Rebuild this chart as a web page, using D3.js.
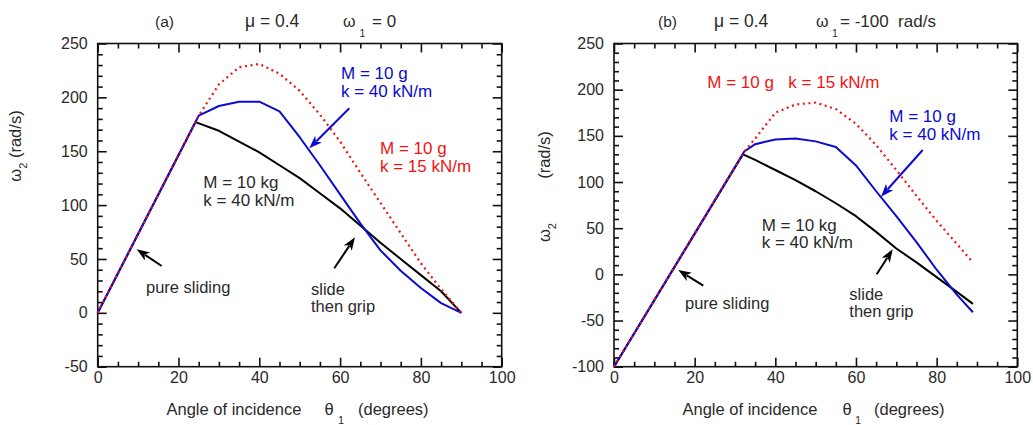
<!DOCTYPE html>
<html><head><meta charset="utf-8">
<script src="https://cdn.jsdelivr.net/npm/d3@7"></script>
<style>
html,body{margin:0;padding:0;background:#fff;}
svg{display:block;font-family:"Liberation Sans",Arial,Helvetica,sans-serif;}
</style></head>
<body>
<svg id="chart" width="1033" height="425"></svg>
<script>
// ---------- Panel (a): mu = 0.4, omega1 = 0 ----------
const thetaA_black = [0, 24.2, 30, 35, 40, 45, 50, 55, 60, 65, 70, 75, 80, 85, 90];
const omegaA_black = [0, 177, 169, 159, 149, 137, 125, 111, 97, 81, 65, 50, 35, 20, 0];
const thetaA_blue  = [0, 25, 30, 35, 40, 45, 50, 55, 60, 65, 70, 75, 80, 85, 90];
const omegaA_blue  = [0, 183, 192, 196, 196, 187, 163, 137, 110, 83, 58, 39, 23, 9, 0];
const thetaA_red   = [0, 25, 30, 35, 40, 45, 50, 55, 60, 65, 70, 75, 80, 85, 90];
const omegaA_red   = [0, 183, 212, 228, 231, 222, 206, 184, 159, 130, 102, 74, 46, 22, 0];

// ---------- Panel (b): mu = 0.4, omega1 = -100 rad/s ----------
const thetaB_black = [0, 32, 35, 40, 45, 50, 55, 60, 65, 70, 75, 80, 85, 89];
const omegaB_black = [-100, 130, 124, 113, 102, 90, 77, 63, 46, 28, 13, -3, -19, -32];
const thetaB_blue  = [0, 32.3, 35, 40, 45, 50, 55, 60, 65, 70, 75, 80, 85, 89];
const omegaB_blue  = [-100, 133, 141, 146, 147, 144, 138, 118, 90, 63, 35, 5, -22, -41];
const thetaB_red   = [0, 32.3, 35, 40, 45, 50, 55, 60, 65, 70, 75, 80, 85, 89];
const omegaB_red   = [-100, 133, 147, 175, 184, 186, 179, 163, 140, 113, 85, 58, 33, 13];

// ---------- Axis ticks ----------
const xMajorTicks = [0, 20, 40, 60, 80, 100];
const yMajorTicksA = [-50, 0, 50, 100, 150, 200, 250];
const yMajorTicksB = [-100, -50, 0, 50, 100, 150, 200, 250];

const BLACK = "#000", BLUE = "#0a0ad2", RED = "#f01414", TXT = "#2a2a2a";
const svg = d3.select("#chart");
const fmt = d => String(d);

function zip(xs, ys){ return xs.map((x,i)=>[x, ys[i]]); }

function arrow(g, x1, y1, x2, y2, color){
  const ang = Math.atan2(y2-y1, x2-x1), L = 13, W = 4.8;
  const bx = x2 - L*Math.cos(ang), by = y2 - L*Math.sin(ang);
  g.append("line").attr("x1",x1).attr("y1",y1).attr("x2",bx+3*Math.cos(ang)).attr("y2",by+3*Math.sin(ang))
    .attr("stroke",color).attr("stroke-width",2);
  const px = -Math.sin(ang), py = Math.cos(ang);
  g.append("path").attr("d", `M${x2},${y2} L${bx+px*W},${by+py*W} L${bx+3.5*Math.cos(ang)},${by+3.5*Math.sin(ang)} L${bx-px*W},${by-py*W} Z`)
    .attr("fill",color);
}

function txt(g, x, y, s, color, size, anchor){
  return g.append("text").attr("x",x).attr("y",y).attr("fill",color||TXT)
    .attr("font-size",size||17).attr("text-anchor",anchor||"start").text(s);
}

function panel(cfg){
  const x = d3.scaleLinear().domain([0,100]).range([cfg.x0, cfg.x1]);
  const y = d3.scaleLinear().domain(cfg.yDomain).range([366.7, 43.5]);
  const g = svg.append("g");
  const xMinor = d3.range(0, 101, 5).filter(v => v % 20 !== 0);
  const yMinor = d3.range(cfg.yDomain[0], cfg.yDomain[1]+1, 10).filter(v => v % 50 !== 0);

  const style = sel => { sel.select(".domain").remove();
    sel.selectAll("line").attr("stroke","#111").attr("stroke-width",1.6);
    sel.selectAll("text").attr("fill",TXT).attr("font-size",16).attr("font-family","Liberation Sans, Arial, sans-serif"); };

  // bottom
  g.append("g").attr("transform",`translate(0,${y.range()[0]})`)
    .call(d3.axisBottom(x).tickValues(xMajorTicks).tickSize(-9).tickPadding(5).tickFormat(fmt)).call(style);
  g.append("g").attr("transform",`translate(0,${y.range()[0]})`)
    .call(d3.axisBottom(x).tickValues(xMinor).tickSize(-5).tickFormat("")).call(style);
  // top
  g.append("g").attr("transform",`translate(0,${y.range()[1]})`)
    .call(d3.axisTop(x).tickValues(xMajorTicks).tickSize(-9).tickFormat("")).call(style);
  g.append("g").attr("transform",`translate(0,${y.range()[1]})`)
    .call(d3.axisTop(x).tickValues(xMinor).tickSize(-5).tickFormat("")).call(style);
  // left
  g.append("g").attr("transform",`translate(${cfg.x0},0)`)
    .call(d3.axisLeft(y).tickValues(cfg.yMajor).tickSize(-9).tickPadding(10).tickFormat(fmt)).call(style);
  g.append("g").attr("transform",`translate(${cfg.x0},0)`)
    .call(d3.axisLeft(y).tickValues(yMinor).tickSize(-5).tickFormat("")).call(style);
  // right
  g.append("g").attr("transform",`translate(${cfg.x1},0)`)
    .call(d3.axisRight(y).tickValues(cfg.yMajor).tickSize(-9).tickFormat("")).call(style);
  g.append("g").attr("transform",`translate(${cfg.x1},0)`)
    .call(d3.axisRight(y).tickValues(yMinor).tickSize(-5).tickFormat("")).call(style);

  // frame
  g.append("rect").attr("x",cfg.x0).attr("y",y.range()[1]).attr("width",cfg.x1-cfg.x0)
    .attr("height",y.range()[0]-y.range()[1]).attr("fill","none").attr("stroke","#111").attr("stroke-width",1.6);

  const line = d3.line().x(d=>x(d[0])).y(d=>y(d[1]));
  g.append("path").datum(zip(cfg.black[0],cfg.black[1])).attr("d",line)
    .attr("fill","none").attr("stroke",BLACK).attr("stroke-width",2).attr("stroke-linejoin","round");
  g.append("path").datum(zip(cfg.blue[0],cfg.blue[1])).attr("d",line)
    .attr("fill","none").attr("stroke",BLUE).attr("stroke-width",2).attr("stroke-linejoin","round");
  g.append("path").datum(zip(cfg.red[0],cfg.red[1])).attr("d",line)
    .attr("fill","none").attr("stroke",RED).attr("stroke-width",2.2).attr("stroke-dasharray","2,3.6");

  // axis titles
  const xt = cfg.xTitle;
  txt(g, xt[0], 415, "Angle of incidence", TXT, 16.5);
  txt(g, xt[1], 415, "θ", TXT, 16.5);
  txt(g, xt[2], 424, "1", TXT, 11);
  txt(g, xt[3], 415, "(degrees)", TXT, 16.5);
  return {g, x, y};
}

// ---------------- Panel (a) ----------------
const A = panel({x0:97.7, x1:501.7, yDomain:[-50,250], yMajor:yMajorTicksA,
  black:[thetaA_black,omegaA_black], blue:[thetaA_blue,omegaA_blue], red:[thetaA_red,omegaA_red],
  xTitle:[166.5, 324.5, 338, 358]});
// title
txt(A.g, 155, 27, "(a)", TXT, 15.5);
txt(A.g, 245, 27, "μ = 0.4", TXT, 17.5);
txt(A.g, 343, 27, "ω", TXT, 16);
txt(A.g, 359.5, 37, "1", TXT, 10.5);
txt(A.g, 372, 27, "= 0", TXT, 17);
// y title
{
  const t = A.g.append("text").attr("transform","translate(20.5,146) rotate(-90)")
    .attr("text-anchor","middle").attr("fill",TXT).attr("font-size",16.5);
  t.append("tspan").text("ω");
  t.append("tspan").attr("font-size",11).attr("dy",6).text("2");
  t.append("tspan").attr("dy",-6).text(" (rad/s)");
}
// annotations
txt(A.g, 341, 79.3, "M = 10 g", BLUE);
txt(A.g, 341, 97, "k = 40 kN/m", BLUE);
arrow(A.g, 349.3, 108.3, 309.3, 148.3, BLUE);
txt(A.g, 380, 154.3, "M = 10 g", RED);
txt(A.g, 380, 172, "k = 15 kN/m", RED);
txt(A.g, 203.3, 188.3, "M = 10 kg", TXT);
txt(A.g, 203.3, 206, "k = 40 kN/m", TXT);
arrow(A.g, 161.7, 266, 136.7, 249.3, BLACK);
txt(A.g, 146, 293.3, "pure sliding", TXT, 16.5);
arrow(A.g, 334.3, 268.3, 355, 237.3, BLACK);
txt(A.g, 311, 295, "slide", TXT, 16.5);
txt(A.g, 311, 312, "then grip", TXT, 16.5);

// ---------------- Panel (b) ----------------
const B = panel({x0:614, x1:1017.3, yDomain:[-100,250], yMajor:yMajorTicksB,
  black:[thetaB_black,omegaB_black], blue:[thetaB_blue,omegaB_blue], red:[thetaB_red,omegaB_red],
  xTitle:[682.5, 842.5, 855, 874]});
txt(B.g, 658, 27, "(b)", TXT, 15.5);
txt(B.g, 714, 27, "μ = 0.4", TXT, 17.5);
txt(B.g, 816, 27, "ω", TXT, 16);
txt(B.g, 832, 37, "1", TXT, 10.5);
txt(B.g, 840, 27, "= -100  rad/s", TXT, 17).attr("xml:space","preserve").style("white-space","pre");
{
  const t1 = B.g.append("text").attr("transform","translate(550,232.5) rotate(-90)")
    .attr("text-anchor","middle").attr("fill",TXT).attr("font-size",16.5);
  t1.append("tspan").text("ω");
  t1.append("tspan").attr("font-size",11).attr("dy",6).text("2");
  B.g.append("text").attr("transform","translate(550,155) rotate(-90)")
    .attr("text-anchor","middle").attr("fill",TXT).attr("font-size",16.5).text("(rad/s)");
}
txt(B.g, 707.3, 88.3, "M = 10 g", RED);
txt(B.g, 788.3, 88.3, "k = 15 kN/m", RED);
txt(B.g, 889.3, 121.8, "M = 10 g", BLUE);
txt(B.g, 889.3, 139.5, "k = 40 kN/m", BLUE);
arrow(B.g, 922.7, 150, 881, 196.7, BLUE);
txt(B.g, 761.7, 230.5, "M = 10 kg", TXT);
txt(B.g, 761.7, 248, "k = 40 kN/m", TXT);
arrow(B.g, 703.3, 285.7, 678.3, 270, BLACK);
txt(B.g, 685, 309.3, "pure sliding", TXT, 16.5);
arrow(B.g, 876.7, 274.3, 892.7, 249.3, BLACK);
txt(B.g, 849.3, 300, "slide", TXT, 16.5);
txt(B.g, 849.3, 317, "then grip", TXT, 16.5);
</script>
</body></html>
